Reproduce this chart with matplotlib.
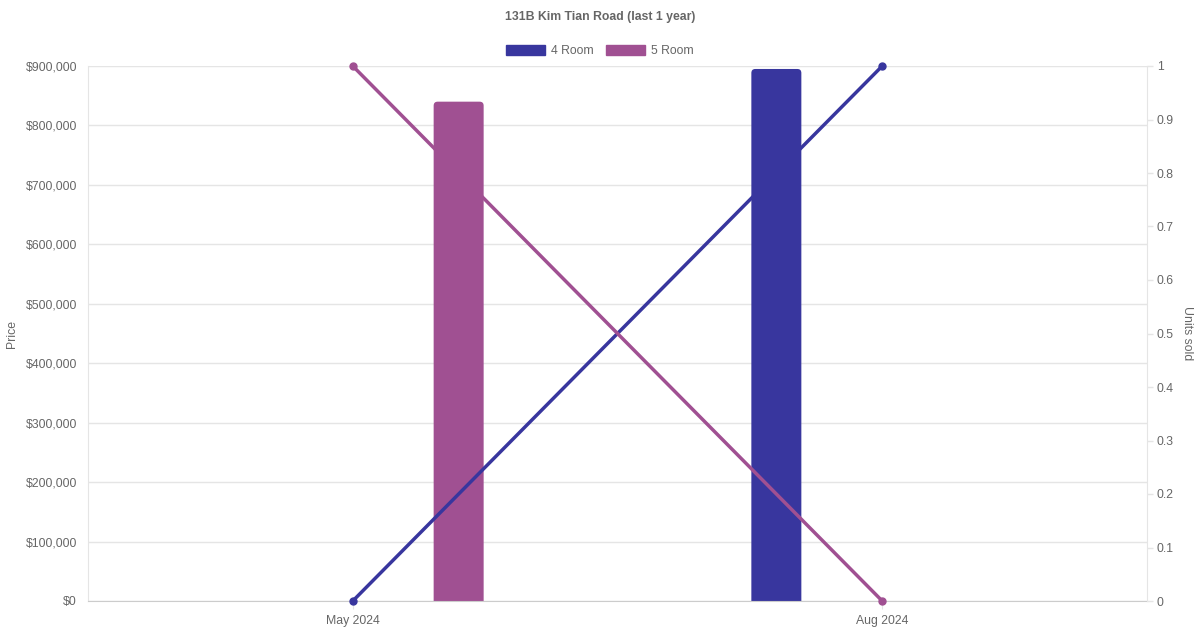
import numpy as np
import matplotlib.pyplot as plt
from matplotlib.patches import Patch, FancyBboxPatch

plt.rcParams['font.family'] = ['Liberation Sans', 'DejaVu Sans']

# Data
months = ["May 2024", "Aug 2024"]
price_4room = [0, 895000]
price_5room = [840000, 0]
units_4room = [0, 1]
units_5room = [1, 0]

c4 = "#38369e"
c5 = "#a05092"
txt = "#666666"
grid = "#e5e5e5"
fs = 8.8

fig = plt.figure(figsize=(12, 6.3), dpi=100)
ax = fig.add_axes([88 / 1200, 29 / 630, (1147 - 88) / 1200, (601 - 66) / 630])
ax2 = ax.twinx()

x = np.arange(len(months))
w = 50 / 529.5

ax.set_xlim(-0.5, 1.5)
ax.set_ylim(0, 900000)
ax2.set_ylim(0, 1)

# px -> data units, for rounded bar tops
px_x = 2 / 1059
px_y = 900000 / 535
r = 4 * px_x
aspect = px_y / px_x


def rounded_bar(a, xc, h, color):
    # draw a bar with rounded corners; bottom pushed below 0 and clipped
    bottom = -r * aspect
    p = FancyBboxPatch((xc - w / 2, bottom), w, h - bottom,
                       boxstyle="round,pad=0,rounding_size=%g" % r,
                       mutation_aspect=aspect, fc=color, ec="none", zorder=2)
    a.add_patch(p)


for xi, v in zip(x, price_4room):
    if v > 0:
        rounded_bar(ax, xi - 0.2, v, c4)
for xi, v in zip(x, price_5room):
    if v > 0:
        rounded_bar(ax, xi + 0.2, v, c5)

ax2.plot(x, units_4room, color=c4, lw=2.5, marker="o", ms=5, zorder=3, clip_on=False)
ax2.plot(x, units_5room, color=c5, lw=2.5, marker="o", ms=5, zorder=3, clip_on=False)

ax.set_yticks(np.arange(0, 900001, 100000))
ax.set_yticklabels(["${:,.0f}".format(v) for v in np.arange(0, 900001, 100000)])
ax2.set_yticks(np.arange(0, 1.01, 0.1))
ax2.set_yticklabels(["0"] + ["{:.1f}".format(v) for v in np.arange(0.1, 0.91, 0.1)] + ["1"])
ax.set_xticks(x)
ax.set_xticklabels(months)

ax.grid(axis="y", color=grid, lw=1, zorder=0)
ax.set_axisbelow(True)
ax.set_zorder(ax2.get_zorder() - 1)
ax.patch.set_visible(False)
ax2.patch.set_visible(False)

for a in (ax, ax2):
    for s in a.spines.values():
        s.set_visible(False)
    a.tick_params(colors=txt, labelsize=fs, length=0)
ax.spines["left"].set_visible(True)
ax.spines["left"].set_color(grid)
ax.spines["bottom"].set_visible(True)
ax.spines["bottom"].set_color("#cccccc")
ax2.spines["right"].set_visible(True)
ax2.spines["right"].set_color(grid)
ax2.tick_params(axis="y", length=4, width=1, color=grid, pad=3)
ax.tick_params(axis="y", pad=8)
ax.tick_params(axis="x", length=6, color=grid, pad=4)

ax.set_ylabel("Price", color=txt, fontsize=fs, labelpad=5)
ax2.set_ylabel("Units sold", color=txt, fontsize=fs, rotation=270, labelpad=14)

fig.text(0.5, 1 - 17 / 630, "131B Kim Tian Road (last 1 year)", ha="center", va="center",
         color=txt, fontsize=fs, fontweight="bold")

handles = [Patch(color=c4, label="4 Room"), Patch(color=c5, label="5 Room")]
fig.legend(handles=handles, loc="center", bbox_to_anchor=(0.5, 1 - 51 / 630), ncol=2,
           frameon=False, fontsize=fs, labelcolor=txt, handlelength=3.2, handleheight=0.85,
           handletextpad=0.5, columnspacing=1.0)

fig.savefig("out.png", dpi=100)
